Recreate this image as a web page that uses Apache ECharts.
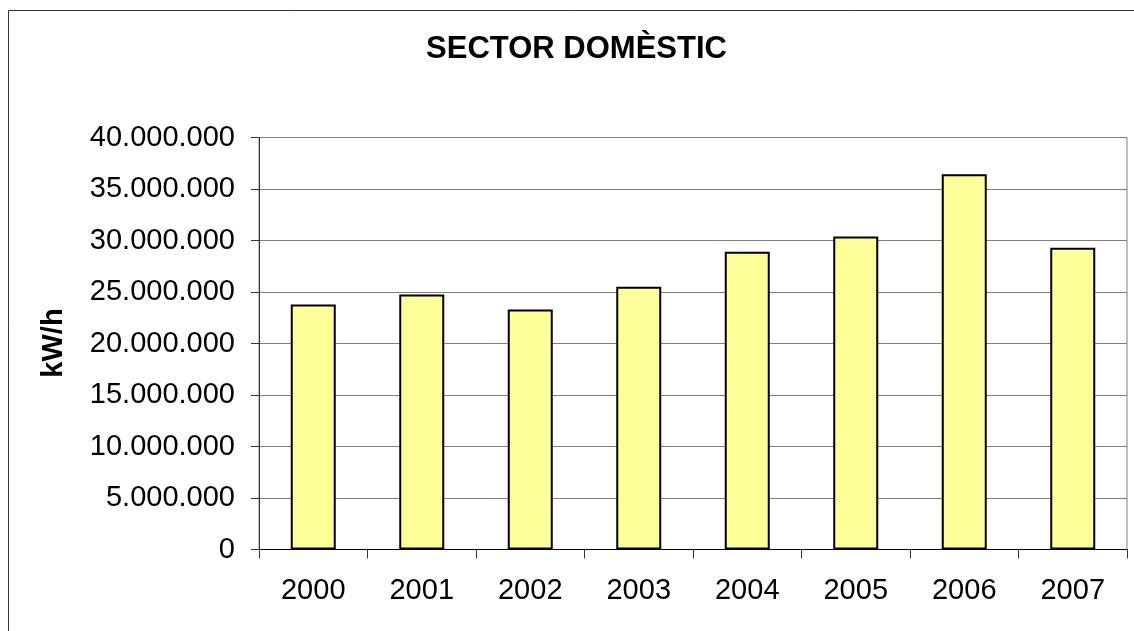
<!DOCTYPE html>
<html>
<head>
<meta charset="utf-8">
<script src="https://cdn.jsdelivr.net/npm/echarts@6/dist/echarts.min.js"></script>
<style>
html,body{margin:0;padding:0;background:#fff;}
#chart{width:1134px;height:631px;}
</style>
</head>
<body>
<div id="chart"></div>
<script>
const categories = ['2000','2001','2002','2003','2004','2005','2006','2007'];
const values = [23790000, 24760000, 23310000, 25500000, 28900000, 30390000, 36440000, 29290000];
const titleText = 'SECTOR DOMÈSTIC';
const yAxisName = 'kW/h';

function fmt(v){
  return String(Math.round(v)).replace(/\B(?=(\d{3})+(?!\d))/g, '.');
}
const FONT = '"Liberation Sans", Arial, sans-serif';
const chart = echarts.init(document.getElementById('chart'));
chart.setOption({
  animation: false,
  backgroundColor: '#fff',
  grid: {
    left: 259, top: 137.5, right: 7, bottom: 81.5,
    show: true, borderColor: '#808080', borderWidth: 1, backgroundColor: 'transparent'
  },
  xAxis: {
    type: 'category',
    data: categories,
    boundaryGap: true,
    axisLine: {show: true, lineStyle: {color: '#000', width: 1}},
    axisTick: {show: true, length: 9, lineStyle: {color: '#333', width: 1}},
    axisLabel: {fontFamily: FONT, fontSize: 29, color: '#000', margin: 27},
    splitLine: {show: false}
  },
  yAxis: {
    type: 'value',
    min: 0, max: 40000000, interval: 5000000,
    axisLine: {show: true, lineStyle: {color: '#333', width: 1}},
    axisTick: {show: true, length: 8, lineStyle: {color: '#333', width: 1}},
    axisLabel: {fontFamily: FONT, fontSize: 29, color: '#000', margin: 24, formatter: fmt},
    splitLine: {show: true, lineStyle: {color: '#7f7f7f', width: 1}}
  },
  series: [{
    type: 'bar',
    data: values,
    barWidth: 45,
    itemStyle: {color: '#FFFF99', borderColor: '#000', borderWidth: 2}
  }],
  graphic: [
    {type: 'rect', shape: {x: 8.5, y: 10.5, width: 1200, height: 700}, style: {fill: null, stroke: '#333', lineWidth: 1}, silent: true, z: -1},
    {type: 'text', x: 576.5, y: 49,
     style: {text: titleText, font: 'bold 31px ' + FONT, fill: '#000', align: 'center', verticalAlign: 'middle'}},
    {type: 'text', x: 54, y: 343, rotation: Math.PI/2,
     style: {text: yAxisName, font: 'bold 29px ' + FONT, fill: '#000', align: 'center', verticalAlign: 'middle'}}
  ]
});
</script>
</body>
</html>
